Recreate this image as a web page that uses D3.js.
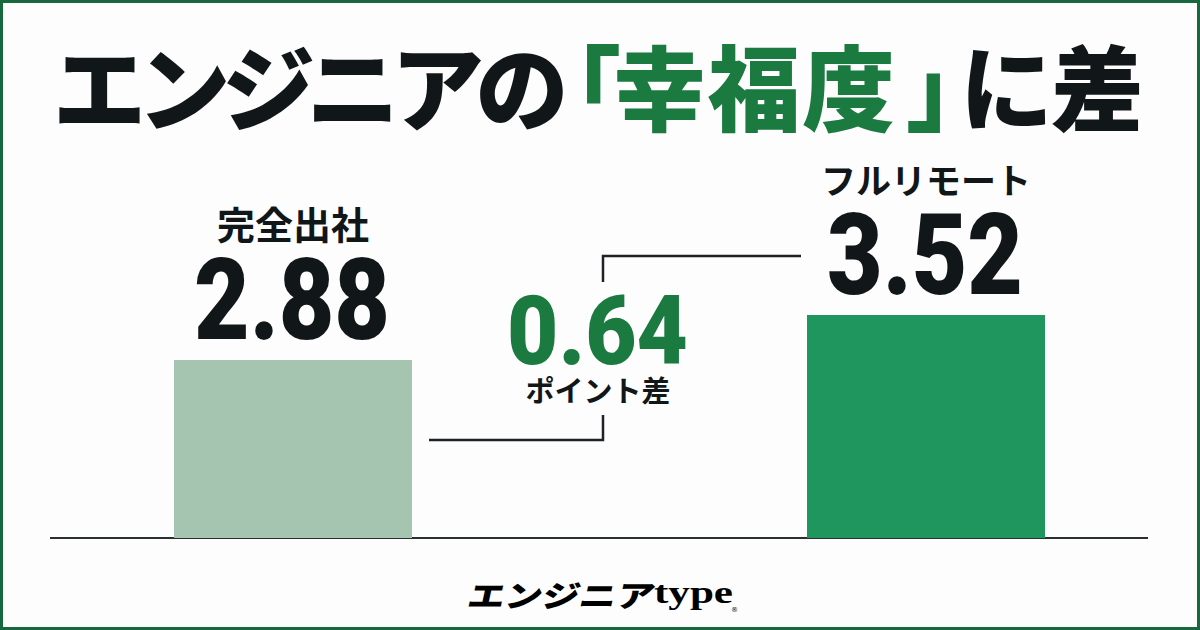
<!DOCTYPE html>
<html><head><meta charset="utf-8">
<script src="https://cdn.jsdelivr.net/npm/d3@7"></script>
<style>
html,body{margin:0;padding:0;background:#fff;}
svg{display:block;}
</style></head>
<body>
<svg id="c" width="1200" height="630"></svg>
<script>
const categories = ["完全出社", "フルリモート"];
const values = [2.88, 3.52];
const diffValue = 0.64;
const diffLabel = "ポイント差";
const titleParts = ["エンジニアの", "「", "幸福度", "」", "に差"];
const titleAccent = [false, true, true, true, false];
const logoKana = "エンジニア";
const logoLatin = "type";

const svg = d3.select("#c");
const W = 1200, H = 630;
const JP = "'Noto Sans CJK JP','Noto Sans',sans-serif";
const NUM = "Roboto,'Noto Sans',sans-serif";
const barColors = ["#a6c5b0", "#20965f"];
const accent = "#1a7a40";
const ink = "#111618";

svg.append("rect").attr("x",0).attr("y",0).attr("width",W).attr("height",H).attr("fill","#fdfdfd");
svg.append("rect").attr("x",1.5).attr("y",1.5).attr("width",W-3).attr("height",H-3)
  .attr("fill","none").attr("stroke","#17683d").attr("stroke-width",3);

// Title layout: x start and letter-spacing per part
const titleLayout = [
  {x: 53, ls: -8.5},
  {x: 528, ls: 0},
  {x: 613, ls: 1.5},
  {x: 906, ls: 0},
  {x: 960, ls: -2}
];
const title = svg.append("text").attr("y",124)
  .attr("font-family",JP).attr("font-weight",900).attr("font-size",93);
title.selectAll("tspan").data(titleParts).join("tspan")
  .attr("x",(d,i)=>titleLayout[i].x)
  .attr("letter-spacing",(d,i)=>titleLayout[i].ls)
  .attr("fill",(d,i)=>titleAccent[i]?accent:ink)
  .text(d=>d);

// Scales
const baseY = 538;
const x = d3.scaleBand().domain(categories).range([174,1045]).paddingInner(0.624).paddingOuter(0);
const y = d3.scaleLinear().domain([0.35, 3.52]).range([baseY, 315]);

// axis baseline
svg.append("line").attr("x1",50).attr("x2",1148).attr("y1",baseY).attr("y2",baseY)
  .attr("stroke","#2a2f30").attr("stroke-width",2);

const data = categories.map((c,i)=>({c, v: values[i], i}));
svg.selectAll("rect.bar").data(data).join("rect").attr("class","bar")
  .attr("x",d=>x(d.c)).attr("width",x.bandwidth())
  .attr("y",d=>y(d.v)).attr("height",d=>baseY - y(d.v))
  .attr("fill",d=>barColors[d.i]);

// value labels
svg.selectAll("text.val").data(data).join("text").attr("class","val")
  .attr("x",d=>x(d.c)+x.bandwidth()/2 - 99).attr("y",d=>y(d.v)-21)
  .attr("font-family",NUM).attr("font-weight",900)
  .attr("font-size",113).attr("textLength",196).attr("lengthAdjust","spacingAndGlyphs")
  .attr("fill",ink)
  .text(d=>d.v.toFixed(2));

svg.selectAll("text.cat").data(data).join("text").attr("class","cat")
  .attr("x",d=>x(d.c)+x.bandwidth()/2).attr("y",d=>y(d.v)-121)
  .attr("text-anchor","middle").attr("font-family",JP).attr("font-weight",700)
  .attr("font-size",d=>d.i===0?38:35).attr("fill",ink)
  .text(d=>d.c);

// connector
const midX = 603;
const x0 = x(categories[0]) + x.bandwidth() + 17;
const x1 = x(categories[1]) - 6;
const lowY = 440, highY = 256;
svg.append("path")
  .attr("d", `M${x0},${lowY} H${midX} V${lowY-25}`)
  .attr("fill","none").attr("stroke","#1e2224").attr("stroke-width",2.5);
svg.append("path")
  .attr("d", `M${x1},${highY} H${midX} V${highY+26}`)
  .attr("fill","none").attr("stroke","#1e2224").attr("stroke-width",2.5);

svg.append("text").attr("x",507).attr("y",364)
  .attr("font-family",NUM).attr("font-weight",900).attr("font-size",97)
  .attr("textLength",181).attr("lengthAdjust","spacingAndGlyphs")
  .attr("fill",accent).text(diffValue.toFixed(2));
svg.append("text").attr("x",598).attr("y",402).attr("text-anchor","middle")
  .attr("font-family",JP).attr("font-weight",700).attr("font-size",29)
  .attr("fill",ink).text(diffLabel);

// logo
const logo = svg.append("g");
logo.append("text").attr("x",0).attr("y",0)
  .attr("transform","translate(466,607) skewX(-12)")
  .attr("font-family",JP).attr("font-weight",900).attr("font-size",30)
  .attr("textLength",186).attr("lengthAdjust","spacingAndGlyphs")
  .attr("fill","#000").text(logoKana);
logo.append("text").attr("x",654).attr("y",603)
  .attr("font-family","'Liberation Serif','DejaVu Serif',serif").attr("font-weight",700)
  .attr("font-size",31).attr("textLength",79).attr("lengthAdjust","spacingAndGlyphs")
  .attr("fill","#000").text(logoLatin);
logo.append("text").attr("x",731).attr("y",612).attr("font-family","DejaVu Sans")
  .attr("font-size",7).attr("fill","#000").text("®");
</script>
</body></html>
